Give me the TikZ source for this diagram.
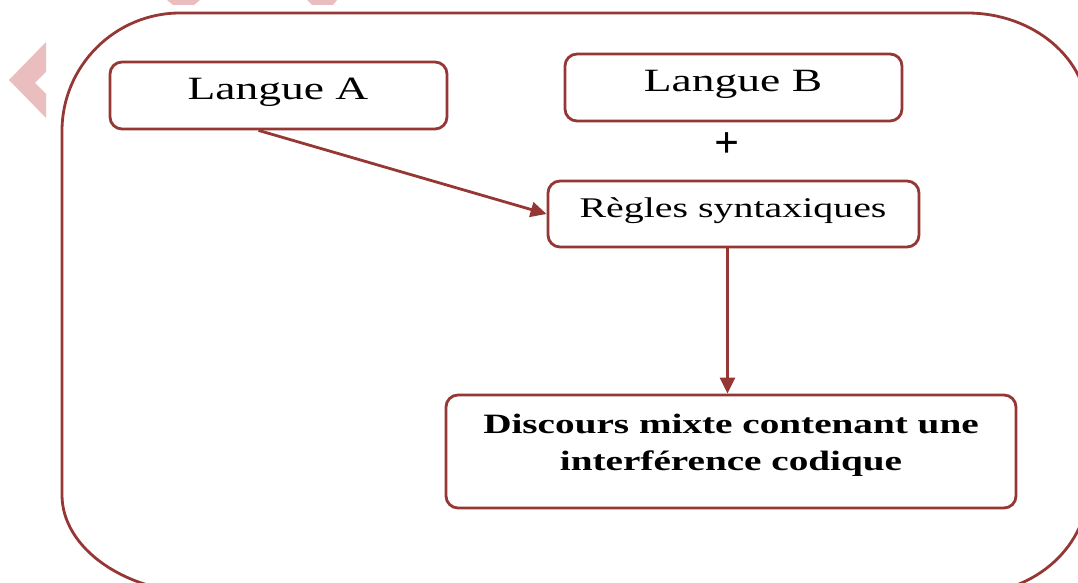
\documentclass[tikz,border=0pt]{standalone}
\usepackage{fontspec}
\setmainfont{Liberation Serif}
\newfontfamily\widefont[FakeStretch=1.4]{Liberation Serif}
\usetikzlibrary{arrows.meta}
\definecolor{boxred}{RGB}{149,55,53}
\definecolor{pinkmark}{RGB}{234,190,190}
\tikzset{
  stepbox/.style={draw=boxred, line width=2.8pt, rounded corners=12pt, fill=white, inner sep=0pt},
  flowarrow/.style={draw=boxred, line width=2.8pt, -{Triangle[length=16pt,width=15pt]}},
  framestyle/.style={draw=boxred, line width=2.8pt},
}
\begin{document}
\begin{tikzpicture}[x=1pt,y=-1pt]
\useasboundingbox (0,0) rectangle (1078,583);
\clip (0,0) rectangle (1078,583);
% watermark fragments
\fill[pinkmark] (46,42) -- (9,80) -- (46,118) -- (46,94) -- (35,83) -- (46,72) -- cycle;
\fill[pinkmark] (167,0) -- (200,0) -- (194,5) -- (173,5) -- cycle;
\fill[pinkmark] (307,0) -- (337,0) -- (333,5) -- (312,5) -- cycle;
% outer frame
\draw[framestyle] (180,13) -- (967,13)
  .. controls (1034,13) and (1088,59) .. (1088,116)
  -- (1088,488)
  .. controls (1088,545) and (1036,593) .. (973,593)
  -- (203,593)
  .. controls (125,593) and (62,548) .. (62,495)
  -- (62,131)
  .. controls (62,66) and (115,13) .. cycle;
% boxes
\node[stepbox, minimum width=337pt, minimum height=67pt] (la) at (278.5,95.5) {};
\node (latext) at (278,92) {\widefont\fontsize{32.5}{38}\selectfont Langue A};
\node[stepbox, minimum width=337pt, minimum height=67pt] (lb) at (733.5,87.5) {};
\node (lbtext) at (733,84) {\widefont\fontsize{32.5}{38}\selectfont Langue B};
\node (plus) at (727,145) {\fontsize{44}{48}\selectfont\bfseries +};
\node[stepbox, minimum width=371pt, minimum height=66pt] (rs) at (733.5,214) {};
\node (rstext) at (733,211) {\widefont\fontsize{28.5}{34}\selectfont Règles syntaxiques};
\node[stepbox, minimum width=570pt, minimum height=113pt] (disc) at (731,451.5) {};
\node[align=center, font={\widefont\fontsize{28}{37}\selectfont\bfseries}] (disctext) at (731,445) {Discours mixte contenant une\\ interférence codique};
% connectors
\draw[flowarrow] ([xshift=-20pt]la.south) -- (rs.west);
\draw[flowarrow] ([xshift=-6pt]rs.south) -- ([xshift=-6pt]rs.south |- disc.north);
\end{tikzpicture}
\end{document}
